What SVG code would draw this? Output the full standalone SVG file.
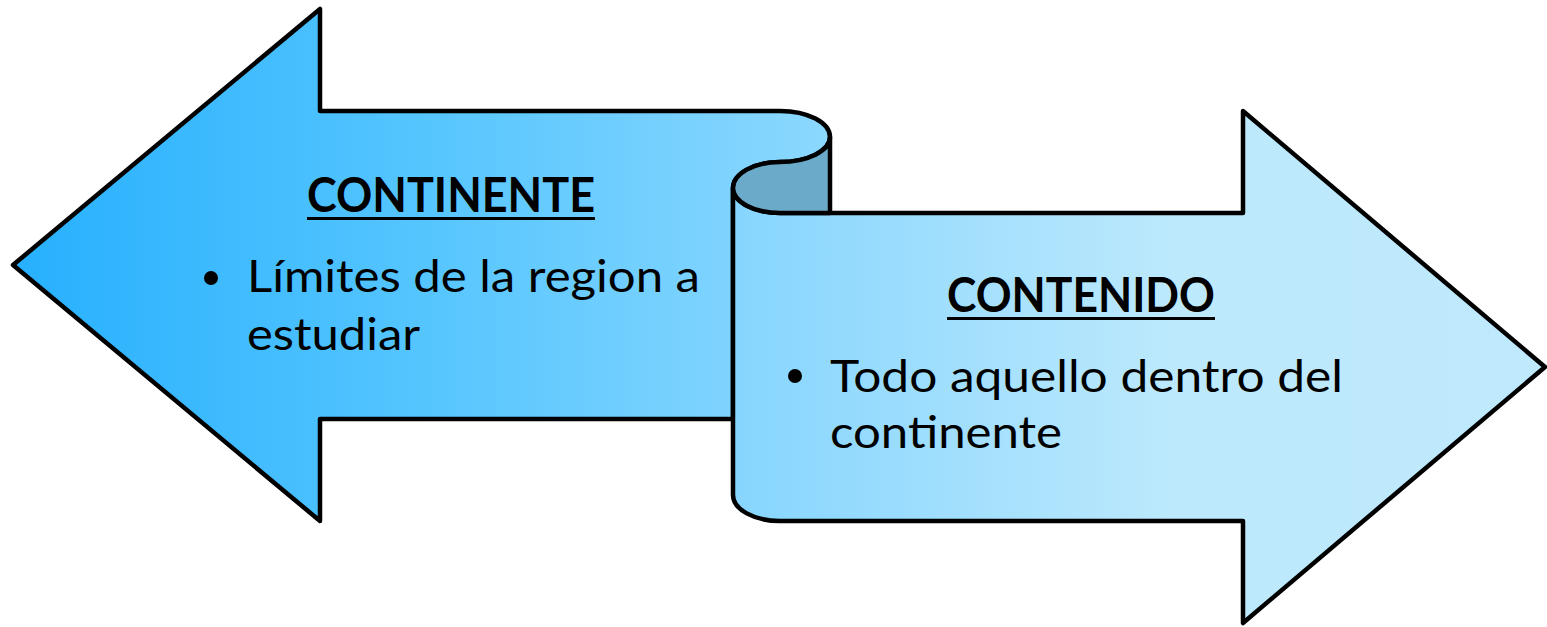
<svg xmlns="http://www.w3.org/2000/svg" width="1547" height="627" viewBox="0 0 1547 627">
<defs>
<linearGradient id="gL" gradientUnits="userSpaceOnUse" x1="13" y1="0" x2="830" y2="0">
<stop offset="0" stop-color="#27B0FE"/>
<stop offset="0.5" stop-color="#55C5FE"/>
<stop offset="1" stop-color="#8CD8FE"/>
</linearGradient>
<linearGradient id="gR" gradientUnits="userSpaceOnUse" x1="733" y1="0" x2="1545" y2="0">
<stop offset="0" stop-color="#86D5FE"/>
<stop offset="0.55" stop-color="#BDE9FC"/>
<stop offset="1" stop-color="#BFE9FC"/>
</linearGradient>
<style>
.shape{stroke:#000;stroke-width:4.5;stroke-linejoin:round}
.head{font-family:Lato,"Open Sans","Liberation Sans",sans-serif;font-weight:bold;font-size:47px;fill:#000}
.body{font-family:Lato,"Open Sans","Liberation Sans",sans-serif;font-size:45px;fill:#000}
</style>
</defs>
<g id="connectors"></g>
<g id="continente">
<path class="shape" fill="url(#gL)" d="M13,265 L320,9 L320,111 L780,111 A50,26 0 0 1 830,137 A50,25 0 0 1 780,162 A47,26 0 0 0 733,188 L733,419 L320,419 L320,521 Z"/>
<text class="head" x="307" y="212" textLength="288" lengthAdjust="spacingAndGlyphs">CONTINENTE</text>
<rect x="307" y="217" width="288" height="3" fill="#000"/>
<circle cx="211" cy="278" r="7" fill="#000"/>
<text class="body" x="247" y="292" textLength="453" lengthAdjust="spacingAndGlyphs">Límites de la region a</text>
<text class="body" x="247" y="350" textLength="173" lengthAdjust="spacingAndGlyphs">estudiar</text>
</g>
<g id="contenido">
<path class="shape" fill="url(#gR)" d="M733,188 A47,25 0 0 0 780,213 L1243,213 L1243,111 L1545,367 L1243,623 L1243,521 L780,521 A47,26 0 0 1 733,495 Z"/>
<path class="shape" fill="#6BAAC9" d="M830,137 L830,213 L780,213 A47,25 0 0 1 733,188 A47,26 0 0 1 780,162 A50,25 0 0 0 830,137 Z"/>
<text class="head" x="947" y="312" textLength="268" lengthAdjust="spacingAndGlyphs">CONTENIDO</text>
<rect x="947" y="317" width="268" height="3" fill="#000"/>
<circle cx="795" cy="376" r="7" fill="#000"/>
<text class="body" x="830" y="392" textLength="513" lengthAdjust="spacingAndGlyphs">Todo aquello dentro del</text>
<text class="body" x="830" y="448" textLength="232" lengthAdjust="spacingAndGlyphs">continente</text>
</g>
</svg>
